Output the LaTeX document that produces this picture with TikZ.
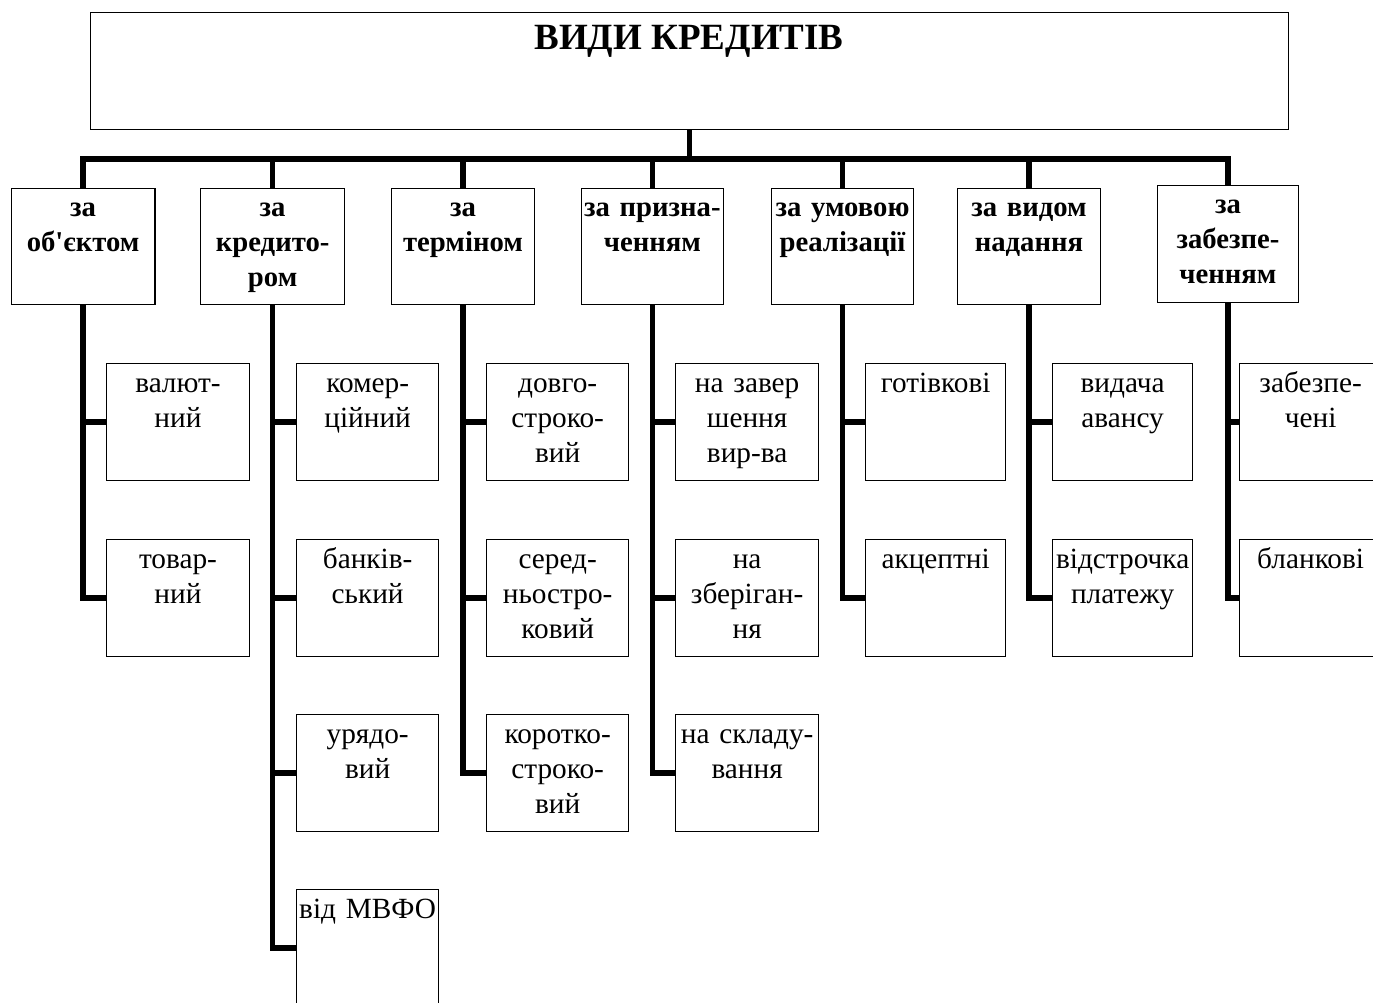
\documentclass[tikz,border=0pt]{standalone}
\usepackage{fontspec}
\setmainfont{Liberation Serif}[Ligatures=TeXOff]
\newcommand{\mkcat}[6]{% name, x, y, width, height, text
  \node[box, minimum width=#4pt, minimum height=#5pt] (#1) at (#2,#3) {};
  \node[cattxt] (#1t) at ([yshift=-29pt]#1.north) {#6};}
\newcommand{\mksub}[5]{% name, x, y, width, text
  \node[box, minimum width=#4pt, minimum height=117pt] (#1) at (#2,#3) {};
  \node[subtxt] (#1t) at ([yshift=-29pt]#1.north) {#5};}
\begin{document}
\begin{tikzpicture}[x=1pt,y=-1pt,
  box/.style={draw=black, line width=1.3pt, inner sep=0pt, anchor=north west, fill=white},
  conn/.style={line width=5.5pt, line join=miter, line cap=butt},
  cattxt/.style={anchor=base, align=center, text width=160pt, inner sep=0pt,
                 font=\fontsize{28.7}{35}\selectfont\bfseries},
  subtxt/.style={anchor=base, align=center, text width=160pt, inner sep=0pt,
                 font=\fontsize{29.3}{35}\selectfont},
]
\useasboundingbox (0,0) rectangle (1373,1003);
\clip (0,0) rectangle (1373,1003);

% heading
\node[box, minimum width=1198pt, minimum height=117pt] (top) at (90,12) {};
\node[font=\fontsize{37}{44}\selectfont\bfseries, anchor=base] (title) at (689,50) {ВИДИ КРЕДИТІВ};

% classification criteria
\mkcat{c1}{10.7}{188}{143.5}{116}{за\\об'єктом}
\mkcat{c2}{200}{188}{144}{116}{за\\кредито-\\ром}
\mkcat{c3}{390.7}{188}{143.3}{116}{за\\терміном}
\mkcat{c4}{580.7}{188}{142}{116}{за призна-\\ченням}
\mkcat{c5}{770.7}{188}{142.3}{116}{за умовою\\реалізації}
\mkcat{c6}{956.7}{188}{143.3}{116}{за видом\\надання}
\mkcat{c7}{1156.7}{185}{141.3}{117}{за\\забезпе-\\ченням}

% kinds of credit
\mksub{s11}{106}{363}{142.7}{валют-\\ний}
\mksub{s12}{106}{539}{142.7}{товар-\\ний}

\mksub{s21}{296}{363}{142}{комер-\\ційний}
\mksub{s22}{296}{539}{142}{банків-\\ський}
\mksub{s23}{296}{714}{142}{урядо-\\вий}
\mksub{s24}{296}{889}{142}{від МВФО}

\mksub{s31}{486}{363}{142}{довго-\\строко-\\вий}
\mksub{s32}{486}{539}{142}{серед-\\ньостро-\\ковий}
\mksub{s33}{486}{714}{142}{коротко-\\строко-\\вий}

\mksub{s41}{675}{363}{143}{на завер\\шення\\вир-ва}
\mksub{s42}{675}{539}{143}{на\\зберіган-\\ня}
\mksub{s43}{675}{714}{143}{на складу-\\вання}

\mksub{s51}{865}{363}{140}{готівкові}
\mksub{s52}{865}{539}{140}{акцептні}

\mksub{s61}{1052}{363}{140}{видача\\авансу}
\mksub{s62}{1052}{539}{140}{відстрочка\\платежу}

\mksub{s71}{1239}{363}{142}{забезпе-\\чені}
\mksub{s72}{1239}{539}{142}{бланкові}

% trunk and bus
\coordinate (bus) at (689,159);
\draw[conn] (top.south) -- (top.south |- bus);
\draw[conn] (c1.north) -- (c1.north |- bus) -- (c7.north |- bus) -- (c7.north);
\foreach \c in {c2,c3,c4,c5,c6}
  \draw[conn] (\c.north |- bus) -- (\c.north);

% branches to the kinds
\draw[conn] (c1.south) |- (s12.west);
\draw[conn] (c1.south |- s11.west) -- (s11.west);

\draw[conn] (c2.south) |- (s24.west);
\foreach \s in {s21,s22,s23}
  \draw[conn] (c2.south |- \s.west) -- (\s.west);

\draw[conn] (c3.south) |- (s33.west);
\foreach \s in {s31,s32}
  \draw[conn] (c3.south |- \s.west) -- (\s.west);

\draw[conn] (c4.south) |- (s43.west);
\foreach \s in {s41,s42}
  \draw[conn] (c4.south |- \s.west) -- (\s.west);

\draw[conn] (c5.south) |- (s52.west);
\draw[conn] (c5.south |- s51.west) -- (s51.west);

\draw[conn] (c6.south) |- (s62.west);
\draw[conn] (c6.south |- s61.west) -- (s61.west);

\draw[conn] (c7.south) |- (s72.west);
\draw[conn] (c7.south |- s71.west) -- (s71.west);
\end{tikzpicture}
\end{document}
